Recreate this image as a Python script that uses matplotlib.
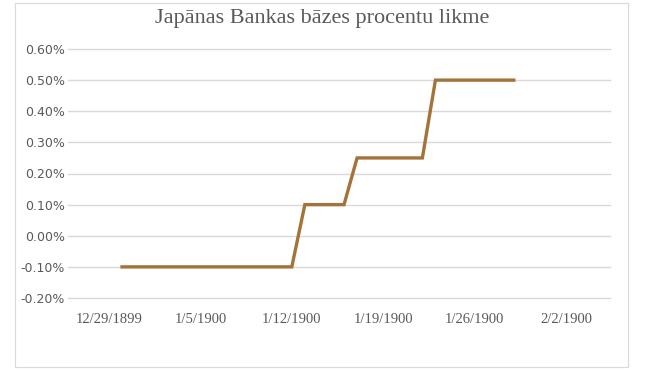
import datetime as dt
import matplotlib
matplotlib.use("Agg")
import matplotlib.pyplot as plt
import matplotlib.dates as mdates
from matplotlib.patches import Rectangle
from matplotlib.ticker import FuncFormatter, MultipleLocator

# Data: daily base rate (%)
start = dt.date(1899, 12, 30)
rates = [-0.10] * 14 + [0.10] * 4 + [0.25] * 6 + [0.50] * 7
dates = [start + dt.timedelta(days=i) for i in range(len(rates))]

tick_dates = [dt.date(1899, 12, 29), dt.date(1900, 1, 5), dt.date(1900, 1, 12),
              dt.date(1900, 1, 19), dt.date(1900, 1, 26), dt.date(1900, 2, 2)]

fig = plt.figure(figsize=(6.45, 3.74), dpi=100)
ax = fig.add_axes([68 / 645, 1 - 298 / 374, (610 - 68) / 645, (298 - 49) / 374])

# chart-area border like Excel
fig.patches.append(Rectangle((15 / 645, 1 - 367 / 374), 613 / 645, 364 / 374,
                             transform=fig.transFigure, fill=False,
                             edgecolor='#d9d9d9', linewidth=0.8))

ax.plot(dates, rates, color='#a47339', linewidth=2.4, solid_joinstyle='miter')

ax.set_ylim(-0.20, 0.60)
ax.yaxis.set_major_locator(MultipleLocator(0.10))
ax.yaxis.set_major_formatter(FuncFormatter(lambda v, p: f'{v:.2f}%'))
ax.grid(axis='y', color='#d9d9d9', linewidth=1.0)
ax.set_axisbelow(True)
for gl in ax.get_ygridlines():
    gl.set_clip_on(False)

px_per_day = 13.06
x0 = mdates.date2num(tick_dates[0]) - 41 / px_per_day
x1 = mdates.date2num(tick_dates[-1]) + 44 / px_per_day
ax.set_xlim(x0, x1)
ax.set_xticks([mdates.date2num(d) for d in tick_dates])
ax.set_xticklabels([f'{d.month}/{d.day}/{d.year}' for d in tick_dates],
                   fontfamily='Liberation Serif', fontsize=10.5, color='#595959')

for s in ax.spines.values():
    s.set_visible(False)
ax.tick_params(length=0)
ax.tick_params(axis='x', pad=11)
ax.tick_params(axis='y', labelsize=9, labelcolor='#595959', pad=2)

fig.text(0.5, 1 - 19 / 374, 'Japānas Bankas bāzes procentu likme', ha='center', va='center',
         fontsize=16, color='#595959', fontfamily='Liberation Serif')

fig.savefig('out.png', dpi=100)
